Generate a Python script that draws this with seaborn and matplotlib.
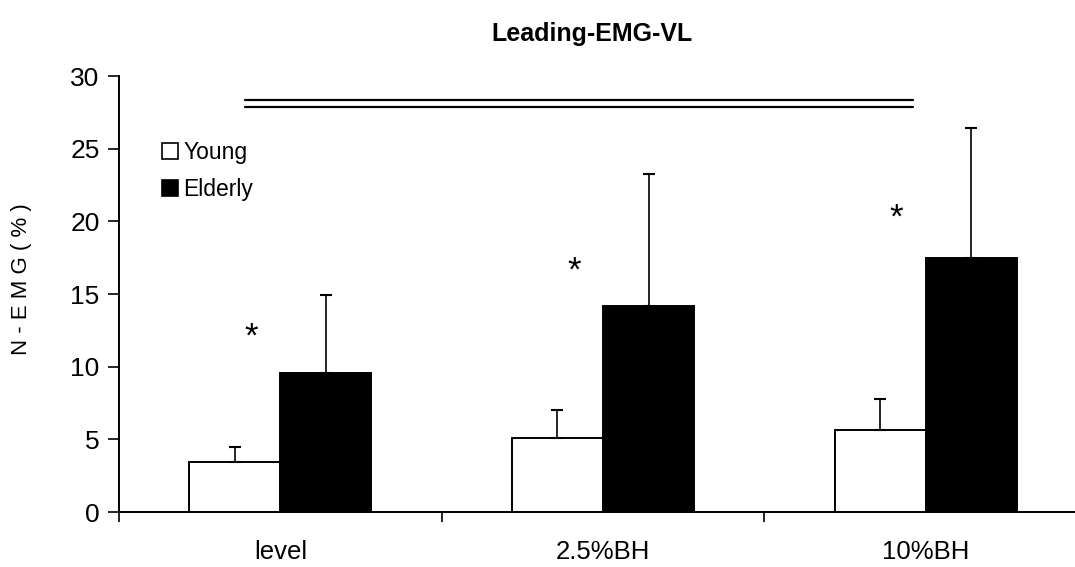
import matplotlib
matplotlib.use("Agg")
import matplotlib.pyplot as plt
import seaborn as sns
import pandas as pd
from matplotlib.patches import Patch

conditions = ["level", "2.5%BH", "10%BH"]
groups = ["Young", "Elderly"]
young_mean = [3.45, 5.1, 5.65]
young_sd = [1.0, 1.9, 2.15]
elderly_mean = [9.55, 14.15, 17.45]
elderly_sd = [5.4, 9.1, 9.0]
star_heights = [12.0, 16.6, 20.2]
title = "Leading-EMG-VL"
ylabel = "N - E M G ( % )"

sns.set_style("ticks", {"axes.edgecolor": "black", "xtick.color": "black",
                        "ytick.color": "black", "text.color": "black",
                        "axes.labelcolor": "black"})
plt.rcParams["font.family"] = ["Liberation Sans", "DejaVu Sans"]

df = pd.DataFrame({
    "condition": conditions * 2,
    "group": [groups[0]] * 3 + [groups[1]] * 3,
    "value": young_mean + elderly_mean,
})

fig = plt.figure(figsize=(10.75, 5.67), dpi=100)
ax = fig.add_axes([119 / 1075, 1 - 512 / 567, (1087 - 119) / 1075, 436 / 567])

sns.barplot(data=df, x="condition", y="value", hue="group", order=conditions,
            hue_order=groups, palette=["white", "black"], edgecolor="black",
            linewidth=1.4, width=0.565, errorbar=None, legend=False, ax=ax)

sds = [young_sd, elderly_sd]
means = [young_mean, elderly_mean]
for cont, m, s in zip(ax.containers, means, sds):
    xs = [b.get_x() + b.get_width() / 2 for b in cont]
    ax.errorbar(xs, m, yerr=[[0] * len(s), s], fmt="none", ecolor="black",
                elinewidth=1.2, capsize=4.5, capthick=1.5, zorder=1)

for i, h in enumerate(star_heights):
    ax.text(i - 0.09, h, "*", ha="center", va="center", fontsize=25, color="black")

ax.plot([-0.11, 1.96], [28.35, 28.35], color="black", lw=1.6, clip_on=False)
ax.plot([-0.11, 1.96], [27.87, 27.87], color="black", lw=1.6, clip_on=False)

ax.set_xlim(-0.5, 2.5)
ax.set_ylim(0, 30)
ax.set_yticks(range(0, 31, 5))
ax.set_xticks(range(len(conditions)))
ax.set_xticklabels(conditions)
ax.set_xticks([-0.5, 0.5, 1.5], minor=True)
ax.tick_params(axis="x", which="major", length=0, pad=20, labelsize=18.5, colors="black")
ax.tick_params(axis="x", which="minor", length=7, width=1.2, direction="out", colors="black")
ax.tick_params(axis="y", length=8, width=1.2, pad=6, labelsize=19, colors="black")

sns.despine(ax=ax)
ax.spines["left"].set_linewidth(1.4)
ax.spines["bottom"].set_linewidth(1.4)
ax.spines["left"].set_color("black")
ax.spines["bottom"].set_color("black")
ax.spines["bottom"].set_clip_on(False)

ax.set_xlabel("")
ax.set_ylabel(ylabel, fontsize=16, color="black")
ax.yaxis.set_label_coords(-0.09, 0.535)

handles = [Patch(facecolor="white", edgecolor="black", linewidth=1.2),
           Patch(facecolor="black", edgecolor="black", linewidth=1.2)]
leg = ax.legend(handles, groups, loc="upper left", bbox_to_anchor=(0.044, 0.85),
                frameon=False, fontsize=16.5, handlelength=0.7, handleheight=0.7,
                handletextpad=0.25, labelspacing=0.6, borderaxespad=0, borderpad=0)
for t in leg.get_texts():
    t.set_color("black")

fig.text(592 / 1075, 1 - 34 / 567, title, ha="center", va="center",
         fontsize=18, fontweight="bold", color="black")

fig.savefig("out.png", dpi=100)
